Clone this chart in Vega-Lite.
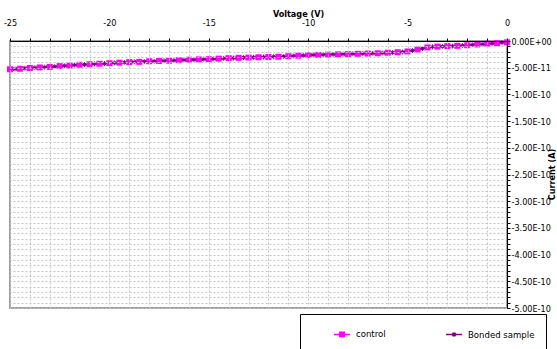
{
  "$schema": "https://vega.github.io/schema/vega-lite/v6.json",
  "autosize": {"type": "none"},
  "padding": {"left": 10, "top": 41, "right": 50, "bottom": 41},
  "width": 497,
  "height": 267,
  "background": "white",
  "config": {
    "view": {"stroke": "#a0a0a0", "strokeWidth": 2},
    "font": "DejaVu Sans Condensed, sans-serif"
  },
  "datasets": {
    "control": [
      {"V": -25, "I": -5.3e-11}, {"V": -24.5, "I": -5.2e-11}, {"V": -24, "I": -5.05e-11}, {"V": -23.5, "I": -4.95e-11},
      {"V": -23, "I": -4.85e-11}, {"V": -22.5, "I": -4.7e-11}, {"V": -22, "I": -4.6e-11}, {"V": -21.5, "I": -4.45e-11},
      {"V": -21, "I": -4.35e-11}, {"V": -20.5, "I": -4.25e-11}, {"V": -20, "I": -4.15e-11}, {"V": -19.5, "I": -4.05e-11},
      {"V": -19, "I": -3.95e-11}, {"V": -18.5, "I": -3.9e-11}, {"V": -18, "I": -3.8e-11}, {"V": -17.5, "I": -3.75e-11},
      {"V": -17, "I": -3.7e-11}, {"V": -16.5, "I": -3.6e-11}, {"V": -16, "I": -3.5e-11}, {"V": -15.5, "I": -3.45e-11},
      {"V": -15, "I": -3.4e-11}, {"V": -14.5, "I": -3.3e-11}, {"V": -14, "I": -3.2e-11}, {"V": -13.5, "I": -3.15e-11},
      {"V": -13, "I": -3.1e-11}, {"V": -12.5, "I": -3.05e-11}, {"V": -12, "I": -3.0e-11}, {"V": -11.5, "I": -2.95e-11},
      {"V": -11, "I": -2.85e-11}, {"V": -10.5, "I": -2.75e-11}, {"V": -10, "I": -2.65e-11}, {"V": -9.5, "I": -2.6e-11},
      {"V": -9, "I": -2.55e-11}, {"V": -8.5, "I": -2.5e-11}, {"V": -8, "I": -2.45e-11}, {"V": -7.5, "I": -2.4e-11},
      {"V": -7, "I": -2.35e-11}, {"V": -6.5, "I": -2.3e-11}, {"V": -6, "I": -2.2e-11}, {"V": -5.5, "I": -2.1e-11},
      {"V": -5, "I": -1.95e-11}, {"V": -4.5, "I": -1.6e-11}, {"V": -4, "I": -1.2e-11}, {"V": -3.5, "I": -1.05e-11},
      {"V": -3, "I": -0.95e-11}, {"V": -2.5, "I": -0.9e-11}, {"V": -2, "I": -0.8e-11}, {"V": -1.5, "I": -0.65e-11},
      {"V": -1, "I": -0.5e-11}, {"V": -0.5, "I": -0.4e-11}, {"V": 0, "I": -0.25e-11}
    ],
    "bonded": [
      {"V": -24.75, "I": -5.25e-11}, {"V": -24.25, "I": -5.1e-11}, {"V": -23.75, "I": -5.0e-11}, {"V": -23.25, "I": -4.9e-11},
      {"V": -22.75, "I": -4.8e-11}, {"V": -22.25, "I": -4.65e-11}, {"V": -21.75, "I": -4.5e-11}, {"V": -21.25, "I": -4.4e-11},
      {"V": -20.75, "I": -4.3e-11}, {"V": -20.25, "I": -4.2e-11}, {"V": -19.75, "I": -4.1e-11}, {"V": -19.25, "I": -4.0e-11},
      {"V": -18.75, "I": -3.9e-11}, {"V": -18.25, "I": -3.85e-11}, {"V": -17.75, "I": -3.8e-11}, {"V": -17.25, "I": -3.7e-11},
      {"V": -16.75, "I": -3.65e-11}, {"V": -16.25, "I": -3.55e-11}, {"V": -15.75, "I": -3.5e-11}, {"V": -15.25, "I": -3.4e-11},
      {"V": -14.75, "I": -3.35e-11}, {"V": -14.25, "I": -3.25e-11}, {"V": -13.75, "I": -3.2e-11}, {"V": -13.25, "I": -3.1e-11},
      {"V": -12.75, "I": -3.05e-11}, {"V": -12.25, "I": -3.0e-11}, {"V": -11.75, "I": -2.95e-11}, {"V": -11.25, "I": -2.9e-11},
      {"V": -10.75, "I": -2.8e-11}, {"V": -10.25, "I": -2.7e-11}, {"V": -9.75, "I": -2.6e-11}, {"V": -9.25, "I": -2.55e-11},
      {"V": -8.75, "I": -2.5e-11}, {"V": -8.25, "I": -2.45e-11}, {"V": -7.75, "I": -2.4e-11}, {"V": -7.25, "I": -2.35e-11},
      {"V": -6.75, "I": -2.3e-11}, {"V": -6.25, "I": -2.25e-11}, {"V": -5.75, "I": -2.15e-11}, {"V": -5.25, "I": -2.05e-11},
      {"V": -4.75, "I": -1.8e-11}, {"V": -4.25, "I": -1.4e-11}, {"V": -3.75, "I": -1.1e-11}, {"V": -3.25, "I": -1.0e-11},
      {"V": -2.75, "I": -0.95e-11}, {"V": -2.25, "I": -0.85e-11}, {"V": -1.75, "I": -0.7e-11}, {"V": -1.25, "I": -0.6e-11},
      {"V": -0.75, "I": -0.45e-11}, {"V": -0.25, "I": -0.3e-11}
    ]
  },
  "encoding": {
    "x": {
      "field": "V", "type": "quantitative",
      "scale": {"domain": [-25, 0], "nice": false, "zero": false},
      "axis": {
        "orient": "top",
        "title": "Voltage (V)",
        "titleFontSize": 9, "titleFontWeight": "bold", "titleColor": "black",
        "titleX": 288, "titleY": -28, "titleAlign": "center", "titleBaseline": "middle",
        "values": [-25,-24,-23,-22,-21,-20,-19,-18,-17,-16,-15,-14,-13,-12,-11,-10,-9,-8,-7,-6,-5,-4,-3,-2,-1,0],
        "labelExpr": "datum.value % 5 === 0 ? '' + datum.value : ''",
        "labelFontSize": 9, "labelColor": "black", "labelPadding": 11,
        "labelFlush": false, "labelOverlap": false,
        "tickSize": 3, "tickColor": "black",
        "domainColor": "black", "domainWidth": 1,
        "grid": true, "gridDash": [2, 2], "gridColor": "#c4c4c4", "gridWidth": 1,
        "zindex": 1
      }
    },
    "y": {
      "field": "I", "type": "quantitative",
      "scale": {"domain": [-5e-10, 0], "nice": false, "zero": false},
      "axis": {
        "orient": "right",
        "title": "Current (A)",
        "titleFontSize": 9, "titleFontWeight": "bold", "titleColor": "black",
        "titleAngle": 270, "titleX": 47, "titleY": 133, "titleAlign": "center", "titleBaseline": "alphabetic",
        "values": [0,-1e-11,-2e-11,-3e-11,-4e-11,-5e-11,-6e-11,-7e-11,-8e-11,-9e-11,-1e-10,-1.1e-10,-1.2e-10,-1.3e-10,-1.4e-10,-1.5e-10,-1.6e-10,-1.7e-10,-1.8e-10,-1.9e-10,-2e-10,-2.1e-10,-2.2e-10,-2.3e-10,-2.4e-10,-2.5e-10,-2.6e-10,-2.7e-10,-2.8e-10,-2.9e-10,-3e-10,-3.1e-10,-3.2e-10,-3.3e-10,-3.4e-10,-3.5e-10,-3.6e-10,-3.7e-10,-3.8e-10,-3.9e-10,-4e-10,-4.1e-10,-4.2e-10,-4.3e-10,-4.4e-10,-4.5e-10,-4.6e-10,-4.7e-10,-4.8e-10,-4.9e-10,-5e-10],
        "labelExpr": "round(datum.value * 1e11) % 5 === 0 ? replace(replace(replace(format(datum.value, '.2e'), '\u2212', '-'), 'e', 'E'), 'E+0', 'E+00') : ''",
        "labelFontSize": 9, "labelColor": "black", "labelPadding": 1,
        "labelFlush": false, "labelOverlap": false,
        "tickSize": 3, "tickColor": "black",
        "domainColor": "black", "domainWidth": 1,
        "grid": true, "gridDash": [2, 2], "gridColor": "#c4c4c4", "gridWidth": 1,
        "zindex": 1
      }
    }
  },
  "layer": [
    {
      "data": {"name": "control"},
      "transform": [{"calculate": "'control'", "as": "series"}],
      "mark": {"type": "line", "strokeWidth": 2},
      "encoding": {
        "color": {
          "field": "series", "type": "nominal",
          "scale": {"domain": ["control", "Bonded sample"], "range": ["#ff00ff", "#800080"]},
          "legend": {
            "title": null,
            "orient": "none", "legendX": 290, "legendY": 273,
            "direction": "horizontal",
            "fillColor": "white", "strokeColor": "black",
            "padding": 11, "symbolOffset": 22,
            "symbolSize": 256, "symbolStrokeWidth": 1.5,
            "labelFontSize": 9.5, "labelColor": "black", "labelOffset": 5, "labelLimit": 400,
            "columnPadding": 37,
            "labelExpr": "datum.label === 'Bonded sample' ? datum.label + '                      ' : datum.label",
            "encode": {
              "symbols": {
                "update": {
                  "shape": {"signal": "datum.value === 'control' ? 'M-1,0H1M-0.28,-0.28H0.28V0.28H-0.28Z' : 'M-1,0H1M-0.2,-0.2L0.2,0.2M-0.2,0.2L0.2,-0.2M0,-0.25V0.25'"},
                  "fill": {"signal": "datum.value === 'control' ? '#ff00ff' : 'transparent'"},
                  "stroke": {"signal": "datum.value === 'control' ? '#ff00ff' : '#800080'"}
                }
              }
            }
          }
        }
      }
    },
    {
      "data": {"name": "bonded"},
      "transform": [{"calculate": "'Bonded sample'", "as": "series"}],
      "mark": {"type": "line", "strokeWidth": 1.5},
      "encoding": {
        "color": {"field": "series", "type": "nominal"}
      }
    },
    {
      "data": {"name": "control"},
      "mark": {"type": "point", "shape": "square", "filled": true, "size": 36, "color": "#ff00ff", "opacity": 1},
      "encoding": {}
    },
    {
      "data": {"name": "bonded"},
      "mark": {"type": "point", "shape": "M-1,0H1M0,-1V1M-0.7,-0.7L0.7,0.7M-0.7,0.7L0.7,-0.7", "filled": false, "size": 24, "color": "#800080", "strokeWidth": 1, "opacity": 1},
      "encoding": {}
    }
  ]
}
